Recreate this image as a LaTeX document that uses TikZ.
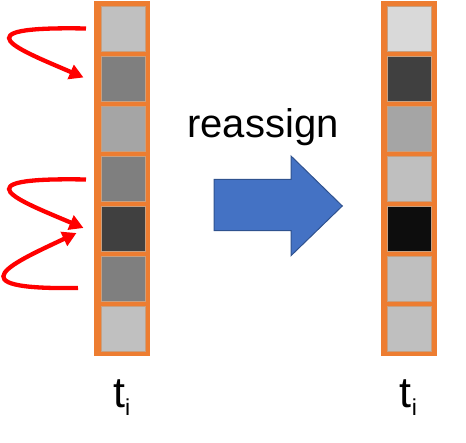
\documentclass[tikz,border=0pt]{standalone}
\usepackage{fontspec}
\setmainfont{Liberation Sans}
\usetikzlibrary{arrows.meta}
\definecolor{colorange}{HTML}{ED7D31}
\definecolor{arrblue}{HTML}{4472C4}
\definecolor{arrblueedge}{HTML}{2F528F}
\definecolor{cellrim}{HTML}{C8A080}
\tikzset{
  column/.style={fill=colorange, draw=none},
  cellbox/.style={draw=cellrim, line width=0.7pt, minimum width=44pt, minimum height=44.5pt, inner sep=0pt, anchor=north west},
  redarrow/.style={draw=red, line width=4.3pt, -{Triangle[length=14pt,width=15pt]}},
  lbl/.style={inner sep=0pt, anchor=base}
}
\begin{document}
\begin{tikzpicture}[x=1pt,y=-1pt]
\useasboundingbox (0,0) rectangle (466,443);
% columns
\fill[column] (94.3,1) rectangle (150,356);
\fill[column] (380.7,1) rectangle (436.7,356);
% left cells
\node[cellbox, fill={rgb,255:red,192;green,192;blue,192}] (l1) at (100.5,6.3) {};
\node[cellbox, fill={rgb,255:red,127;green,127;blue,127}] (l2) at (100.5,56.3) {};
\node[cellbox, fill={rgb,255:red,165;green,165;blue,165}] (l3) at (100.5,106.3) {};
\node[cellbox, fill={rgb,255:red,127;green,127;blue,127}] (l4) at (100.5,156.3) {};
\node[cellbox, fill={rgb,255:red,64;green,64;blue,64}] (l5) at (100.5,206.3) {};
\node[cellbox, fill={rgb,255:red,127;green,127;blue,127}] (l6) at (100.5,256.3) {};
\node[cellbox, fill={rgb,255:red,192;green,192;blue,192}] (l7) at (100.5,306.3) {};
% right cells
\node[cellbox, fill={rgb,255:red,217;green,217;blue,217}] (r1) at (386.7,6.3) {};
\node[cellbox, fill={rgb,255:red,64;green,64;blue,64}] (r2) at (386.7,56.3) {};
\node[cellbox, fill={rgb,255:red,165;green,165;blue,165}] (r3) at (386.7,106.3) {};
\node[cellbox, fill={rgb,255:red,191;green,191;blue,191}] (r4) at (386.7,156.3) {};
\node[cellbox, fill={rgb,255:red,13;green,13;blue,13}] (r5) at (386.7,206.3) {};
\node[cellbox, fill={rgb,255:red,191;green,191;blue,191}] (r6) at (386.7,256.3) {};
\node[cellbox, fill={rgb,255:red,191;green,191;blue,191}] (r7) at (386.7,306.3) {};
% red arrows
\coordinate (a1s) at (86,28.5);
\coordinate (a1e) at (83.5,77.5);
\coordinate (a2s) at (86,179.5);
\coordinate (a2e) at (83.5,228);
\coordinate (a3s) at (78,288);
\coordinate (a3e) at (76.5,233);
\draw[redarrow] (a1s) .. controls (-45,26) and (20,50) .. (a1e);
\draw[redarrow] (a2s) .. controls (-45,177) and (20,201) .. (a2e);
\draw[redarrow] (a3s) .. controls (-50,290) and (15,262) .. (a3e);
% blue arrow
\draw[fill=arrblue, draw=arrblueedge, line width=1pt, line join=miter]
  (214,179.3) -- (291,179.3) -- (291,156) -- (342.3,206) -- (291,255.7) -- (291,230.7) -- (214,230.7) -- cycle;
% texts
\node[lbl, font=\fontsize{40}{42}\selectfont] (re) at (263,137.7) {reassign};
\node[lbl, font=\fontsize{43}{45}\selectfont] (tl) at (121.7,407.3) {t\raisebox{-8.7pt}{\fontsize{23}{24}\selectfont i}};
\node[lbl, font=\fontsize{43}{45}\selectfont] (tr) at (408.5,407.3) {t\raisebox{-8.7pt}{\fontsize{23}{24}\selectfont i}};
\end{tikzpicture}
\end{document}
